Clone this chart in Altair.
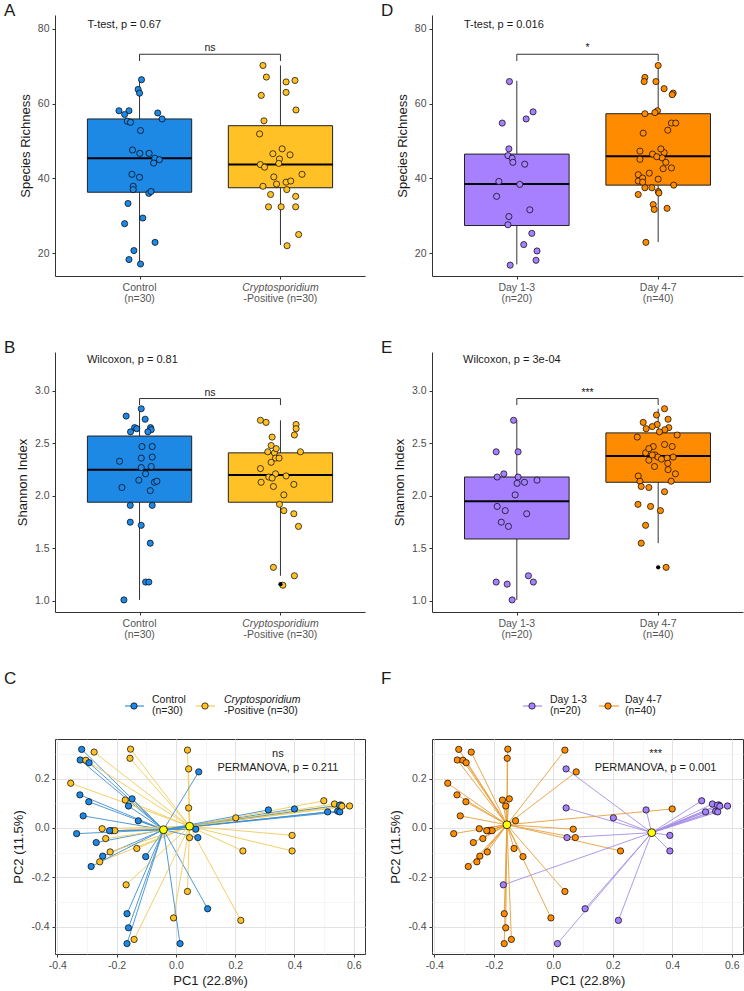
import altair as alt
import pandas as pd

FONT = "Liberation Sans"
TXT = "#1a1a1a"
LAB = "#555555"
AX = "#333333"

COL_CTRL = "#1E88E5"
COL_CRYP = "#FFC125"
COL_EARLY = "#A680FF"
COL_LATE = "#FF8C00"
LINE_CTRL = "#3F8FD2"
LINE_CRYP = "#F2CB55"
LINE_EARLY = "#A68EE8"
LINE_LATE = "#E8A038"

STATUS = ["Control", "Cryptosporidium-Positive"]
DAYS = ["Day 1-3", "Day 4-7"]

# ---------------- Panel A: species richness, infection status ----------------
A_ctrl_dx = [0.014, -0.01, 0.0, -0.146, -0.075, -0.106, -0.087, 0.129, 0.16, 0.007,
             -0.05, 0.002, 0.068, 0.108, 0.141, 0.1, -0.054, 0.0, -0.045, -0.045,
             0.066, 0.082, -0.082, 0.023, -0.106, 0.11, -0.04, -0.075, 0.007, -0.064]
A_ctrl_val = [66.4, 63.8, 62.8, 58.1, 58.1, 57.1, 55.3, 57.5, 55.9, 52.8,
              47.6, 46.7, 46.7, 45.4, 45.0, 44.1, 41.1, 40.3, 37.9, 37.0,
              36.0, 36.5, 33.3, 29.4, 27.9, 22.9, 20.7, 18.3, 17.1, 55.0]
A_cryp_dx = [-0.124, -0.1, 0.04, 0.103, -0.136, 0.04, 0.11, -0.117, -0.148, -0.054,
             0.012, 0.068, -0.007, -0.012, -0.143, -0.113, 0.153, -0.047, -0.028, 0.04,
             0.073, -0.124, 0.045, -0.07, 0.108, -0.085, 0.005, 0.108, 0.129, 0.047]
A_cryp_val = [70.2, 67.1, 65.8, 66.2, 62.2, 63.0, 58.3, 55.4, 51.9, 46.6,
              47.9, 46.3, 45.2, 44.0, 43.7, 43.0, 41.1, 40.4, 38.5, 39.0,
              39.3, 37.9, 37.0, 35.7, 35.2, 32.4, 32.4, 32.4, 25.0, 22.0]
A_box = [[17.1, 36.3, 45.4, 55.9, 66.4], [22.2, 37.5, 43.7, 54.1, 70.2]]  # lo, q1, med, q3, hi

# ---------------- Panel D: species richness, day group ----------------
D_early_dx = [-0.052, -0.103, 0.115, 0.066, -0.056, -0.063, -0.033, -0.028, 0.056, -0.127,
              0.021, -0.143, 0.092, -0.056, -0.063, 0.106, 0.049, 0.143, 0.136, -0.047]
D_early_val = [65.9, 54.8, 57.8, 55.9, 47.9, 46.1, 45.4, 44.3, 43.8, 39.2,
               38.4, 35.2, 31.6, 29.8, 27.6, 25.3, 22.3, 20.6, 18.1, 16.8]
D_late_dx = [0.0, -0.094, -0.099, -0.016, 0.042, 0.106, 0.099, -0.005, -0.023, -0.094,
             0.094, 0.124, 0.068, -0.106, -0.129, -0.04, 0.042, 0.028, -0.129, 0.054,
             0.094, -0.063, -0.141, -0.141, -0.11, 0.0, 0.11, -0.094, -0.045, 0.0,
             -0.141, 0.005, -0.035, -0.028, 0.063, -0.087, -0.01, 0.019, -0.11, 0.035]
D_late_val = [70.2, 67.0, 65.9, 65.9, 64.0, 62.8, 62.4, 58.1, 57.6, 57.3,
              54.8, 54.8, 52.9, 52.1, 47.3, 46.5, 46.9, 45.5, 45.1, 44.3,
              42.8, 41.4, 41.0, 39.3, 40.1, 39.8, 38.2, 37.5, 37.5, 36.5,
              35.7, 36.1, 33.0, 31.7, 32.0, 22.9, 45.8, 47.9, 39.0, 42.6]
D_box = [[17.0, 27.4, 38.5, 46.5, 66.1], [23.0, 38.2, 45.9, 57.3, 70.2]]

# ---------------- Panel B: Shannon index, infection status ----------------
B_ctrl_dx = [0.012, -0.095, 0.04, -0.035, -0.064, 0.078, 0.083, 0.059, 0.017, 0.09,
             -0.142, 0.012, 0.09, 0.083, 0.043, -0.005, 0.106, 0.123, -0.125, 0.076,
             -0.066, 0.09, -0.066, 0.012, 0.076, 0.043, 0.066, -0.111, -0.02, 0.012]
B_ctrl_val = [2.83, 2.76, 2.73, 2.65, 2.61, 2.65, 2.63, 2.61, 2.47, 2.47,
              2.33, 2.36, 2.37, 2.28, 2.21, 2.15, 2.13, 2.14, 2.08, 2.05,
              1.91, 1.91, 1.75, 1.72, 1.55, 1.18, 1.18, 1.01, 2.64, 2.27]
B_cryp_dx = [-0.142, -0.102, 0.111, 0.111, 0.099, -0.059, -0.066, -0.09, -0.043, 0.142,
             -0.035, -0.066, -0.142, -0.035, 0.04, -0.083, -0.059, -0.137, 0.095, -0.05,
             0.024, -0.007, 0.024, 0.095, 0.128, -0.05, 0.099, 0.017, -0.03, -0.01]
B_cryp_val = [2.72, 2.70, 2.68, 2.64, 2.58, 2.56, 2.48, 2.42, 2.41, 2.42,
              2.36, 2.32, 2.26, 2.21, 2.19, 2.18, 2.17, 2.13, 2.11, 2.09,
              2.01, 1.92, 1.86, 1.83, 1.71, 1.32, 1.24, 1.15, 2.45, 2.36]
B_box = [[1.01, 1.94, 2.25, 2.57, 2.83], [1.24, 1.94, 2.20, 2.41, 2.72]]
B_out_grp = [2]
B_out_val = [1.16]

# ---------------- Panel E: Shannon index, day group ----------------
E_early_dx = [-0.023, -0.146, 0.009, -0.092, -0.139, 0.009, 0.002, 0.054, 0.143, -0.012,
              -0.139, -0.082, 0.07, -0.11, -0.059, -0.146, -0.068, 0.082, 0.117, -0.033]
E_early_val = [2.72, 2.42, 2.42, 2.21, 2.18, 2.18, 2.12, 2.13, 2.15, 2.01,
               1.90, 1.86, 1.83, 1.75, 1.71, 1.18, 1.16, 1.24, 1.18, 1.01]
E_late_dx = [0.045, -0.012, 0.07, -0.106, -0.007, -0.042, -0.085, 0.075, 0.047, 0.009,
             0.134, -0.148, -0.035, 0.045, 0.099, -0.089, -0.023, -0.002, 0.106, 0.063,
             -0.066, 0.068, -0.026, 0.07, 0.122, -0.141, -0.129, 0.092, -0.12, -0.066,
             0.045, -0.143, -0.054, 0.016, -0.089, -0.12, 0.056, 0.023, -0.042, -0.066]
E_late_val = [2.83, 2.77, 2.73, 2.70, 2.68, 2.66, 2.64, 2.65, 2.63, 2.61,
              2.58, 2.56, 2.47, 2.49, 2.47, 2.41, 2.39, 2.37, 2.37, 2.36,
              2.34, 2.31, 2.28, 2.25, 2.21, 2.19, 2.14, 2.14, 2.09, 2.08,
              2.04, 1.92, 1.90, 1.86, 1.72, 1.55, 1.32, 2.35, 2.39, 2.45]
E_box = [[1.01, 1.59, 1.95, 2.18, 2.72], [1.55, 2.13, 2.38, 2.60, 2.83]]
E_out_grp = [2]
E_out_val = [1.32]

# ---------------- Panels C/F: PCoA ----------------
pc1 = [-0.318, -0.276, -0.323, -0.304, -0.293, -0.153, -0.155, 0.039, 0.043, 0.077,
       -0.355, -0.324, -0.294, -0.171, -0.148, -0.160, 0.043, -0.127, -0.313, -0.335,
       -0.249, -0.216, -0.206, -0.269, -0.237, -0.132, -0.102, -0.247, -0.222, -0.257,
       -0.286, 0.067, 0.074, 0.046, 0.202, 0.312, 0.400, 0.499, 0.535, 0.557,
       0.586, 0.512, 0.546, 0.553, 0.552, 0.392, 0.392, 0.226, -0.168, 0.039,
       0.107, 0.219, -0.008, -0.165, -0.160, -0.141, -0.165, 0.014, -0.224, 0.560]
pc2 = [0.318, 0.307, 0.275, 0.274, 0.264, 0.319, 0.282, 0.315, 0.239, 0.227,
       0.181, 0.134, 0.106, 0.113, 0.118, 0.089, 0.081, 0.029, 0.049, -0.023,
       -0.003, -0.011, -0.011, -0.059, -0.043, -0.083, -0.116, -0.114, -0.097, -0.137,
       -0.156, -0.005, -0.039, -0.039, 0.041, 0.073, 0.077, 0.110, 0.097, 0.093,
       0.089, 0.065, 0.068, 0.065, 0.092, -0.030, -0.093, -0.093, -0.230, -0.257,
       -0.327, -0.374, -0.364, -0.347, -0.404, -0.451, -0.468, -0.468, -0.011, 0.088]
status_code = "CPCPCPPPPC" "PCCPCCPCCC" "PCPCPPCCPP" "CCCPPCCPPP" "PCCCCPPPPP" "CPPCCPCCCP"
day_code = "LLLLLLLLEL" "LLLLLLELLL" "LLLLLLLLLL" "LLLEEELEEE" "EEEEEEELEL" "EELLLLLELE"
status_centroid = {"Control": (-0.042, -0.007), "Cryptosporidium-Positive": (0.046, 0.007)}
day_centroid = {"Day 1-3": (0.331, -0.019), "Day 4-7": (-0.156, 0.013)}


def box_panel(g1, g2, boxes, outl, names, colors, ydom, yticks, yfmt, ytitle,
              brk_lo, brk_hi, sig, stat, stat_pos, xlabels, letter, W, H):
    xs = alt.Scale(domain=[0.4, 2.6], nice=False, zero=False)
    ys = alt.Scale(domain=ydom, nice=False, zero=False)
    xa = alt.Axis(values=[1, 2], labels=False, title=None, grid=False, ticks=True,
                  tickSize=3, domainColor=AX, tickColor=AX)
    ya = alt.Axis(values=yticks, format=yfmt, title=ytitle, grid=False, tickSize=3,
                  labelPadding=3, titlePadding=5, domainColor=AX, tickColor=AX)

    def X(f):
        return alt.X(f, type="quantitative", scale=xs, axis=xa)

    def Y(f):
        return alt.Y(f, type="quantitative", scale=ys, axis=ya)

    fill = alt.Fill("grp:N", scale=alt.Scale(domain=names, range=colors), legend=None)

    pts = pd.DataFrame({
        "x": [1 + d for d in g1[0]] + [2 + d for d in g2[0]],
        "v": list(g1[1]) + list(g2[1]),
        "grp": [names[0]] * len(g1[1]) + [names[1]] * len(g2[1]),
    })
    half = 0.37
    bx = pd.DataFrame([dict(g=i + 1, xl=i + 1 - half, xr=i + 1 + half, lo=s[0], q1=s[1],
                            med=s[2], q3=s[3], hi=s[4], grp=names[i])
                       for i, s in enumerate(boxes)])
    brk = pd.DataFrame({"x": [1, 1, 2, 2], "y": [brk_lo, brk_hi, brk_hi, brk_lo], "o": [0, 1, 2, 3]})
    sigdf = pd.DataFrame({"x": [1.5], "y": [brk_hi], "t": [sig]})
    statdf = pd.DataFrame({"x": [stat_pos[0]], "y": [stat_pos[1]], "t": [stat]})

    layers = [
        alt.Chart(bx).mark_rule(color=AX, strokeWidth=1).encode(x=X("g"), y=Y("lo"), y2="hi"),
        alt.Chart(bx).mark_rect(stroke="#222222", strokeWidth=1).encode(
            x=X("xl"), x2="xr", y=Y("q1"), y2="q3", fill=fill),
        alt.Chart(bx).mark_rule(color="black", strokeWidth=2).encode(x=X("xl"), x2="xr", y=Y("med")),
        alt.Chart(brk).mark_line(color=AX, strokeWidth=1).encode(x=X("x"), y=Y("y"), order="o:Q"),
        alt.Chart(sigdf).mark_text(baseline="bottom", dy=-1, fontSize=10.5, color=TXT).encode(
            x=X("x"), y=Y("y"), text="t:N"),
        alt.Chart(statdf).mark_text(align="left", baseline="middle", fontSize=11, color=TXT).encode(
            x=X("x"), y=Y("y"), text="t:N"),
        alt.Chart(pts).mark_circle(size=38, stroke="black", strokeWidth=0.7, opacity=1).encode(
            x=X("x"), y=Y("v"), fill=fill),
    ]
    if outl is not None:
        od = pd.DataFrame({"x": outl[0], "v": outl[1]})
        layers.append(alt.Chart(od).mark_circle(size=18, color="black", opacity=1).encode(
            x=X("x"), y=Y("v")))
    # category labels (two lines, first line may be italic)
    for line_no, dy in [(0, 12), (1, 23)]:
        for ital in [False, True]:
            rows = [(g, t[line_no][0]) for g, t in xlabels if t[line_no][1] == ital]
            if not rows:
                continue
            ld = pd.DataFrame({"x": [r[0] for r in rows], "t": [r[1] for r in rows]})
            kw = dict(fontStyle="italic") if ital else {}
            layers.append(alt.Chart(ld).mark_text(baseline="middle", fontSize=10.5, color=LAB, **kw).encode(
                x=X("x"), y=alt.value(H + dy), text="t:N"))
    layers.append(alt.Chart(pd.DataFrame({"t": [letter]})).mark_text(
        align="left", baseline="middle", fontSize=17, color=TXT).encode(
        x=alt.value(-51), y=alt.value(-4), text="t:N"))
    return alt.layer(*layers).properties(width=W, height=H)


def pcoa_panel(gcodes, cmap, names, pcols, lcols, cent, sig, legend, letter, W, H):
    xs = alt.Scale(domain=[-0.408, 0.638], nice=False, zero=False)
    ys = alt.Scale(domain=[-0.51, 0.36], nice=False, zero=False)
    major = "abs(round(datum.value*10)) % 2 == 0"
    lab = "abs(round(datum.value*10)) % 2 == 0 ? replace(format(datum.value, '.1f'), '\u2212', '-') : ''"
    common = dict(labelExpr=lab, tickSize=3, domain=False, labelPadding=3,
                  gridColor=alt.condition(major, alt.value("#e2e2e2"), alt.value("#f0f0f0")),
                  gridWidth=alt.condition(major, alt.value(1), alt.value(0.6)),
                  tickColor=alt.condition(major, alt.value(AX), alt.value("transparent")))
    xa = alt.Axis(values=[-0.4, -0.3, -0.2, -0.1, 0.0, 0.1, 0.2, 0.3, 0.4, 0.5, 0.6],
                  title="PC1 (22.8%)", titlePadding=4, **common)
    ya = alt.Axis(values=[-0.5, -0.4, -0.3, -0.2, -0.1, 0.0, 0.1, 0.2, 0.3],
                  title="PC2 (11.5%)", titlePadding=5, **common)

    def X(f):
        return alt.X(f, type="quantitative", scale=xs, axis=xa)

    def Y(f):
        return alt.Y(f, type="quantitative", scale=ys, axis=ya)

    grp = [cmap[c] for c in gcodes]
    df = pd.DataFrame({"pc1": pc1, "pc2": pc2, "grp": grp,
                       "cx": [cent[g][0] for g in grp], "cy": [cent[g][1] for g in grp]})
    cd = pd.DataFrame({"cx": [cent[n][0] for n in names], "cy": [cent[n][1] for n in names]})
    lcol = alt.Color("grp:N", scale=alt.Scale(domain=names, range=lcols), legend=None)
    pfill = alt.Fill("grp:N", scale=alt.Scale(domain=names, range=pcols), legend=None)
    layers = [
        alt.Chart(df).mark_rule(strokeWidth=1, opacity=0.9).encode(
            x=X("pc1"), y=Y("pc2"), x2="cx", y2="cy", color=lcol),
        alt.Chart(df).mark_circle(size=40, stroke="black", strokeWidth=0.7, opacity=1).encode(
            x=X("pc1"), y=Y("pc2"), fill=pfill),
        alt.Chart(cd).mark_circle(size=62, color="#FFFF00", stroke="black", strokeWidth=0.8, opacity=1).encode(
            x=X("cx"), y=Y("cy")),
        alt.Chart(pd.DataFrame({"x": [0.344], "y": [0.298], "t": [sig]})).mark_text(
            fontSize=11, color=TXT, baseline="middle").encode(x=X("x"), y=Y("y"), text="t:N"),
        alt.Chart(pd.DataFrame({"x": [0.344], "y": [0.244], "t": [cent["_stat"]]})).mark_text(
            fontSize=11, color=TXT, baseline="middle").encode(x=X("x"), y=Y("y"), text="t:N"),
    ]
    # manual legend above the panel
    for (lx0, lx1, sx, tx, t1, ital, t2, lc, pc) in legend:
        layers.append(alt.Chart(pd.DataFrame({"a": [0]})).mark_rule(color=lc, strokeWidth=1.2).encode(
            x=alt.value(lx0), x2=alt.value(lx1), y=alt.value(-33)))
        layers.append(alt.Chart(pd.DataFrame({"a": [0]})).mark_circle(
            size=40, color=pc, stroke="black", strokeWidth=0.7, opacity=1).encode(
            x=alt.value(sx), y=alt.value(-33)))
        kw = dict(fontStyle="italic") if ital else {}
        layers.append(alt.Chart(pd.DataFrame({"t": [t1]})).mark_text(
            align="left", baseline="middle", fontSize=10.5, color=TXT, **kw).encode(
            x=alt.value(tx), y=alt.value(-39.5), text="t:N"))
        layers.append(alt.Chart(pd.DataFrame({"t": [t2]})).mark_text(
            align="left", baseline="middle", fontSize=10.5, color=TXT).encode(
            x=alt.value(tx), y=alt.value(-28.5), text="t:N"))
    layers.append(alt.Chart(pd.DataFrame({"t": [letter]})).mark_text(
        align="left", baseline="middle", fontSize=17, color=TXT).encode(
        x=alt.value(-51), y=alt.value(-60), text="t:N"))
    return alt.layer(*layers).properties(
        width=W, height=H, view=alt.ViewBackground(stroke=AX, strokeWidth=1))


status_xlabels = [(1, [("Control", False), ("(n=30)", False)]),
                  (2, [("Cryptosporidium", True), ("-Positive  (n=30)", False)])]
day_xlabels = [(1, [("Day 1-3", False), ("(n=20)", False)]),
               (2, [("Day 4-7", False), ("(n=40)", False)])]

WL, WR = 310, 311
pA = box_panel((A_ctrl_dx, A_ctrl_val), (A_cryp_dx, A_cryp_val), A_box, None, STATUS,
               [COL_CTRL, COL_CRYP], [13.9, 83.7], [20, 40, 60, 80], "d", "Species Richness",
               71.4, 73.2, "ns", "T-test, p = 0.67", (0.63, 81.1), status_xlabels, "A", WL, 261)
pD = box_panel((D_early_dx, D_early_val), (D_late_dx, D_late_val), D_box, None, DAYS,
               [COL_EARLY, COL_LATE], [13.9, 83.7], [20, 40, 60, 80], "d", "Species Richness",
               71.4, 73.2, "*", "T-test, p = 0.016", (0.626, 81.1), day_xlabels, "D", WR, 261)
pB = box_panel((B_ctrl_dx, B_ctrl_val), (B_cryp_dx, B_cryp_val), B_box,
               ([2 + 0.0 for _ in B_out_grp], B_out_val), STATUS,
               [COL_CTRL, COL_CRYP], [0.895, 3.37], [1.0, 1.5, 2.0, 2.5, 3.0], ".1f", "Shannon Index",
               2.865, 2.927, "ns", "Wilcoxon, p = 0.81", (0.627, 3.295), status_xlabels, "B", WL, 260)
pE = box_panel((E_early_dx, E_early_val), (E_late_dx, E_late_val), E_box,
               ([2 + 0.0 for _ in E_out_grp], E_out_val), DAYS,
               [COL_EARLY, COL_LATE], [0.895, 3.37], [1.0, 1.5, 2.0, 2.5, 3.0], ".1f", "Shannon Index",
               2.865, 2.927, "***", "Wilcoxon, p = 3e-04", (0.62, 3.295), day_xlabels, "E", WR, 260)

cC = dict(status_centroid)
cC["_stat"] = "PERMANOVA, p = 0.211"
cF = dict(day_centroid)
cF["_stat"] = "PERMANOVA, p = 0.001"
pC = pcoa_panel(status_code, {"C": STATUS[0], "P": STATUS[1]}, STATUS, [COL_CTRL, COL_CRYP],
                [LINE_CTRL, LINE_CRYP], cC, "ns",
                [(70, 89, 79, 97, "Control", False, "(n=30)", LINE_CTRL, COL_CTRL),
                 (141, 160, 150, 169, "Cryptosporidium", True, "-Positive  (n=30)", LINE_CRYP, COL_CRYP)],
                "C", WL, 215)
pF = pcoa_panel(day_code, {"E": DAYS[0], "L": DAYS[1]}, DAYS, [COL_EARLY, COL_LATE],
                [LINE_EARLY, LINE_LATE], cF, "***",
                [(91, 110, 100, 118, "Day 1-3", False, "(n=20)", LINE_EARLY, COL_EARLY),
                 (167, 187, 176, 193, "Day 4-7", False, "(n=40)", LINE_LATE, COL_LATE)],
                "F", WR, 215)

grid = alt.concat(pA, pD, pB, pE, columns=2, bounds="flush",
                  spacing=alt.RowColnumber(row=76, column=67)).resolve_scale(fill="independent")
row3 = alt.hconcat(pC, pF, spacing=67, bounds="flush").resolve_scale(
    fill="independent", color="independent")
chart = alt.vconcat(grid, row3, spacing=28).resolve_scale(
    fill="independent", color="independent").properties(
    padding={"left": 3, "top": 2, "right": 0, "bottom": 0}
).configure(font=FONT).configure_view(strokeWidth=0).configure_axis(
    labelFont=FONT, titleFont=FONT, labelColor="#4d4d4d", titleColor=TXT,
    labelFontSize=10.5, titleFontSize=13, titleFontWeight="normal"
).configure_text(font=FONT)

chart.save("out.html", embed_options={"renderer": "svg", "actions": False})
